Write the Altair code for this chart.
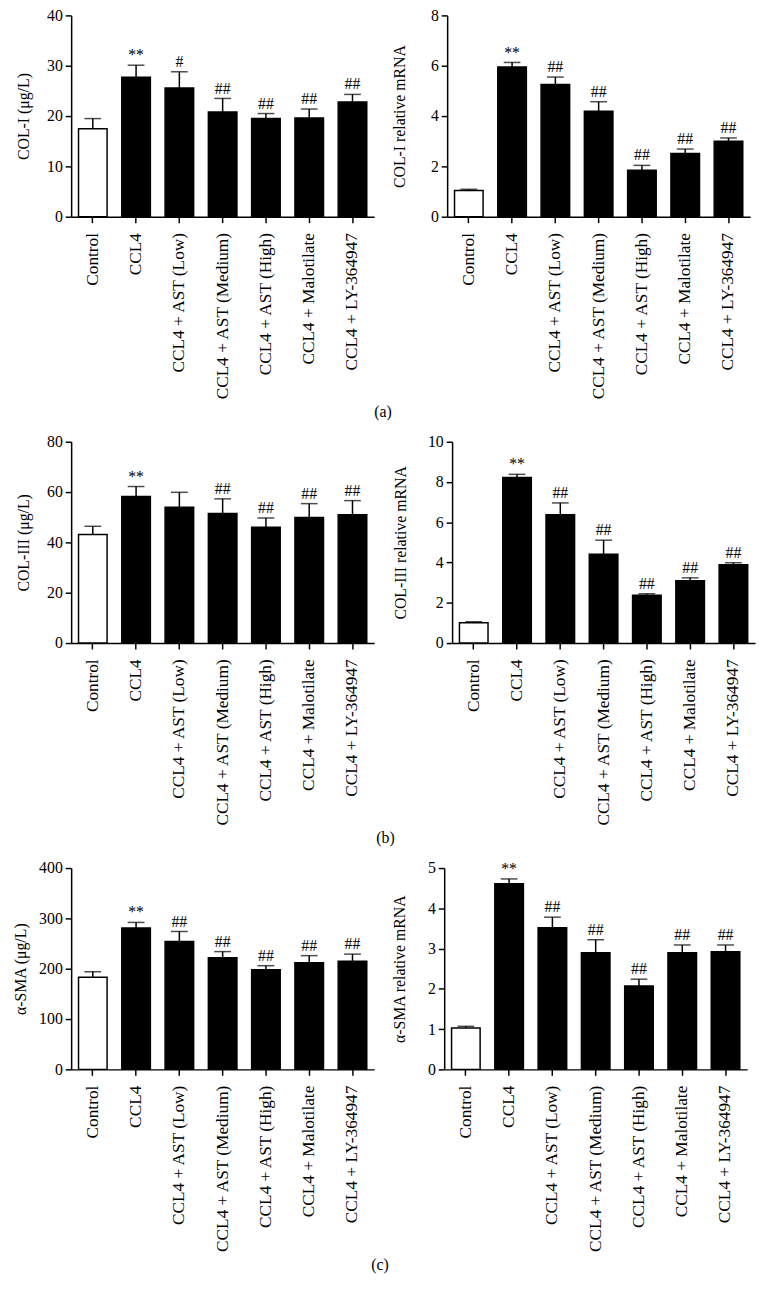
import altair as alt
import pandas as pd

FONT = "Liberation Serif"

groups = [
    "Control",
    "CCL4",
    "CCL4 + AST (Low)",
    "CCL4 + AST (Medium)",
    "CCL4 + AST (High)",
    "CCL4 + Malotilate",
    "CCL4 + LY-364947",
]

# (a) COL-I
col1_protein_mean = [17.5, 27.7, 25.6, 20.8, 19.5, 19.6, 22.8]
col1_protein_sd = [2.0, 2.4, 3.2, 2.7, 1.0, 1.8, 1.5]
col1_protein_sig = ["", "**", "#", "##", "##", "##", "##"]

col1_mrna_mean = [1.04, 5.95, 5.25, 4.19, 1.85, 2.51, 3.00]
col1_mrna_sd = [0.05, 0.18, 0.30, 0.38, 0.19, 0.18, 0.13]
col1_mrna_sig = ["", "**", "##", "##", "##", "##", "##"]

# (b) COL-III
col3_protein_mean = [43.1, 58.2, 54.0, 51.5, 46.0, 49.9, 51.0]
col3_protein_sd = [3.3, 4.0, 5.9, 5.8, 3.7, 5.5, 5.6]
col3_protein_sig = ["", "**", "", "##", "##", "##", "##"]

col3_mrna_mean = [1.01, 8.22, 6.37, 4.41, 2.37, 3.09, 3.89]
col3_mrna_sd = [0.05, 0.16, 0.59, 0.70, 0.08, 0.15, 0.10]
col3_mrna_sig = ["", "**", "##", "##", "##", "##", "##"]

# (c) alpha-SMA
sma_protein_mean = [183, 281, 254, 222, 198, 212, 215]
sma_protein_sd = [11, 11, 20, 12, 8, 14, 14]
sma_protein_sig = ["", "**", "##", "##", "##", "##", "##"]

sma_mrna_mean = [1.03, 4.61, 3.52, 2.90, 2.07, 2.90, 2.92]
sma_mrna_sd = [0.04, 0.12, 0.26, 0.32, 0.17, 0.19, 0.17]
sma_mrna_sig = ["", "**", "##", "##", "##", "##", "##"]

W, H = 307, 204


def panel(mean, sd, sig, ytitle, ymax, ystep, title_x):
    df = pd.DataFrame({"group": groups, "mean": mean, "sd": sd, "sig": sig})
    xscale = alt.Scale(paddingInner=0.34, paddingOuter=0.17)
    x_axis = alt.X(
        "group:N",
        sort=groups,
        scale=xscale,
        axis=alt.Axis(
            title=None,
            labelAngle=-90,
            tickSize=6,
            labelPadding=10,
            labelFontSize=17.5,
        ),
    )
    yscale = alt.Scale(domain=[0, ymax], nice=False, zero=True)
    ticks = list(range(0, ymax + 1, ystep))
    y_axis = alt.Axis(
        title=ytitle,
        values=ticks,
        tickSize=6,
        labelPadding=3,
        titleX=title_x,
    )
    base = alt.Chart(df).transform_calculate(top="datum.mean + datum.sd")
    bars = base.mark_bar(stroke="black", strokeWidth=1.5).encode(
        x=x_axis,
        y=alt.Y("mean:Q", scale=yscale, axis=y_axis),
        fill=alt.condition(
            "datum.group == 'Control'", alt.value("white"), alt.value("black")
        ),
    )
    err = base.mark_rule(color="black", strokeWidth=1.5).encode(
        x=x_axis, y=alt.Y("mean:Q", scale=yscale, axis=y_axis), y2="top:Q"
    )
    cap = base.mark_tick(color="black", thickness=1.5, size=17).encode(
        x=x_axis, y=alt.Y("top:Q", scale=yscale, axis=y_axis)
    )
    txt = base.mark_text(
        baseline="bottom", dy=-2, font=FONT, fontSize=16, color="black"
    ).encode(x=x_axis, y=alt.Y("top:Q", scale=yscale, axis=y_axis), text="sig:N")
    return alt.layer(bars, err, cap, txt).properties(width=W, height=H)


def row(left, right, caption):
    return alt.hconcat(left, right, spacing=18).properties(
        title=alt.TitleParams(
            caption,
            orient="bottom",
            anchor="middle",
            fontSize=16,
            font=FONT,
            fontWeight="normal",
            color="black",
            offset=4,
        )
    )


row_a = row(
    panel(col1_protein_mean, col1_protein_sd, col1_protein_sig, "COL-I (μg/L)", 40, 10, -40),
    panel(col1_mrna_mean, col1_mrna_sd, col1_mrna_sig, "COL-I relative mRNA", 8, 2, -40),
    "(a)",
)
row_b = row(
    panel(col3_protein_mean, col3_protein_sd, col3_protein_sig, "COL-III (μg/L)", 80, 20, -40),
    panel(col3_mrna_mean, col3_mrna_sd, col3_mrna_sig, "COL-III relative mRNA", 10, 2, -44),
    "(b)",
)
row_c = row(
    panel(sma_protein_mean, sma_protein_sd, sma_protein_sig, "α-SMA (μg/L)", 400, 100, -43),
    panel(sma_mrna_mean, sma_mrna_sd, sma_mrna_sig, "α-SMA relative mRNA", 5, 1, -37),
    "(c)",
)

chart = (
    alt.vconcat(row_a, row_b, row_c, spacing=14)
    .properties(padding={"left": 5, "top": -9, "right": 5, "bottom": 5})
    .configure_view(stroke=None)
    .configure_axis(
        domainColor="black",
        domainWidth=1.5,
        tickColor="black",
        tickWidth=1.5,
        labelFont=FONT,
        labelFontSize=16,
        labelColor="black",
        titleFont=FONT,
        titleFontSize=16,
        titleColor="black",
        titleFontWeight="normal",
        grid=False,
    )
)

chart.save("out.html", embed_options={"renderer": "svg", "actions": False})
